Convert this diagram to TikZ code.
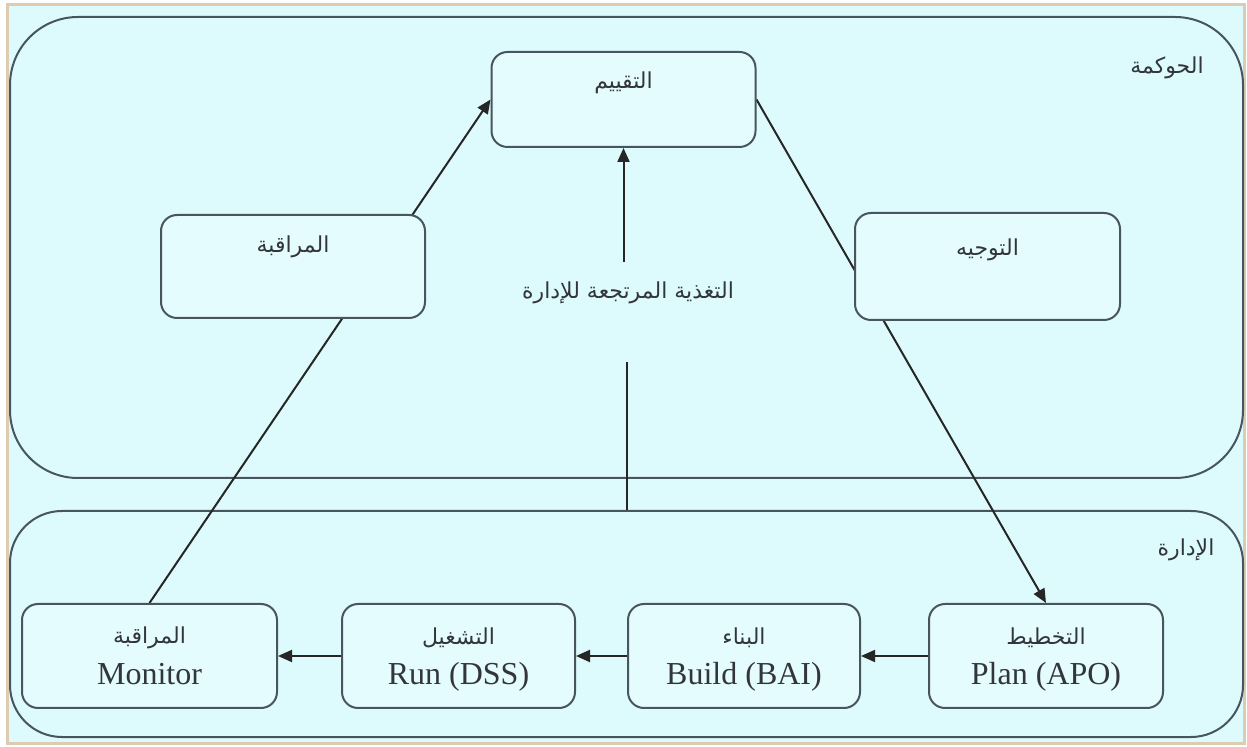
\documentclass[tikz,border=0pt]{standalone}
\usepackage{fontspec}
\setmainfont{Liberation Serif}
\newfontfamily\arabicfont[Script=Arabic]{DejaVu Sans}
\TeXXeTstate=1
\usetikzlibrary{arrows.meta}
\definecolor{bgcyan}{RGB}{221,251,252}
\definecolor{boxfill}{RGB}{228,252,253}
\definecolor{edge}{RGB}{72,84,94}
\definecolor{tanframe}{RGB}{222,204,176}
\definecolor{txtgray}{RGB}{50,54,60}
\newcommand{\artxt}[1]{{\arabicfont\beginR #1\endR}}
\pgfdeclarelayer{bglayer}
\pgfdeclarelayer{linelayer}
\pgfsetlayers{bglayer,linelayer,main}
\begin{document}
\begin{tikzpicture}[x=0.5pt,y=-0.5pt,
  region/.style={draw=edge, line width=1pt, fill=bgcyan, inner sep=0pt},
  box/.style={draw=edge, line width=1pt, fill=boxfill, rounded corners=8pt, inner sep=0pt, align=center, text=txtgray},
  lbl/.style={inner sep=0pt, text=txtgray, font=\arabicfont\fontsize{11}{13}\selectfont},
  conn/.style={draw=black!85, line width=1pt},
  arr/.style={conn, -{Triangle[length=7pt,width=6pt]}},
  boxtxt/.style={inner sep=0pt, text=txtgray},
  bottombox/.style={box, minimum height=52pt}]
\useasboundingbox (0,0) rectangle (1247,747);
\begin{pgfonlayer}{bglayer}
\fill[white] (0,0) rectangle (1247,747);
\draw[draw=tanframe, line width=1.5pt, fill=bgcyan] (7,5) rectangle (1244,743);
\node[region, rounded corners=34pt, minimum width=616.5pt, minimum height=230.5pt] (gov) at (626.5,247.5) {};
\node[region, rounded corners=26pt, minimum width=616.5pt, minimum height=113pt] (mgmt) at (626.5,624) {};
\end{pgfonlayer}

% governance boxes
\node[box, minimum width=132pt, minimum height=47.5pt] (eval) at (623.5,99.5) {};
\node[lbl] (evalt) at (623.5,83) {\artxt{التقييم}};
\node[box, minimum width=132pt, minimum height=51.5pt] (mon2) at (293,266.5) {};
\node[lbl] (mon2t) at (293,247) {\artxt{المراقبة}};
\node[box, minimum width=132.5pt, minimum height=53.5pt] (dir) at (987.5,266.5) {};
\node[lbl] (dirt) at (987.5,250) {\artxt{التوجيه}};
\node[lbl] (fb) at (628,293) {\artxt{التغذية المرتجعة للإدارة}};
\node[lbl] (govl) at (1167,68) {\artxt{الحوكمة}};
\node[lbl] (mgmtl) at (1186,550) {\artxt{الإدارة}};

% management boxes
\node[bottombox, minimum width=127.5pt] (mon) at (149.5,656) {};
\node[bottombox, minimum width=116.5pt] (run) at (458.5,656) {};
\node[bottombox, minimum width=116pt] (build) at (744,656) {};
\node[bottombox, minimum width=117pt] (plan) at (1046,656) {};
\foreach \n/\a/\l in {mon/المراقبة/Monitor, run/التشغيل/Run (DSS), build/البناء/Build (BAI), plan/التخطيط/Plan (APO)}{
  \node[lbl] (\n a) at ([yshift=9pt]\n.center) {\artxt{\a}};
  \node[boxtxt, font=\fontsize{16}{20}\selectfont] (\n l) at ([yshift=-10.5pt]\n.center) {\vphantom{Ap(}\l};
}

\coordinate (fbtop) at (623.5,262);
\coordinate (fbbot) at (627,362);

\begin{pgfonlayer}{linelayer}
\draw[arr] (mon.north) -- (eval.west);
\draw[arr] (eval.east) -- (plan.north);
\draw[arr] (fbtop) -- (eval.south);
\draw[conn] (fbbot) -- (fbbot |- mgmt.north);
\draw[arr] (plan.west) -- (build.east);
\draw[arr] (build.west) -- (run.east);
\draw[arr] (run.west) -- (mon.east);
\end{pgfonlayer}
\end{tikzpicture}
\end{document}
